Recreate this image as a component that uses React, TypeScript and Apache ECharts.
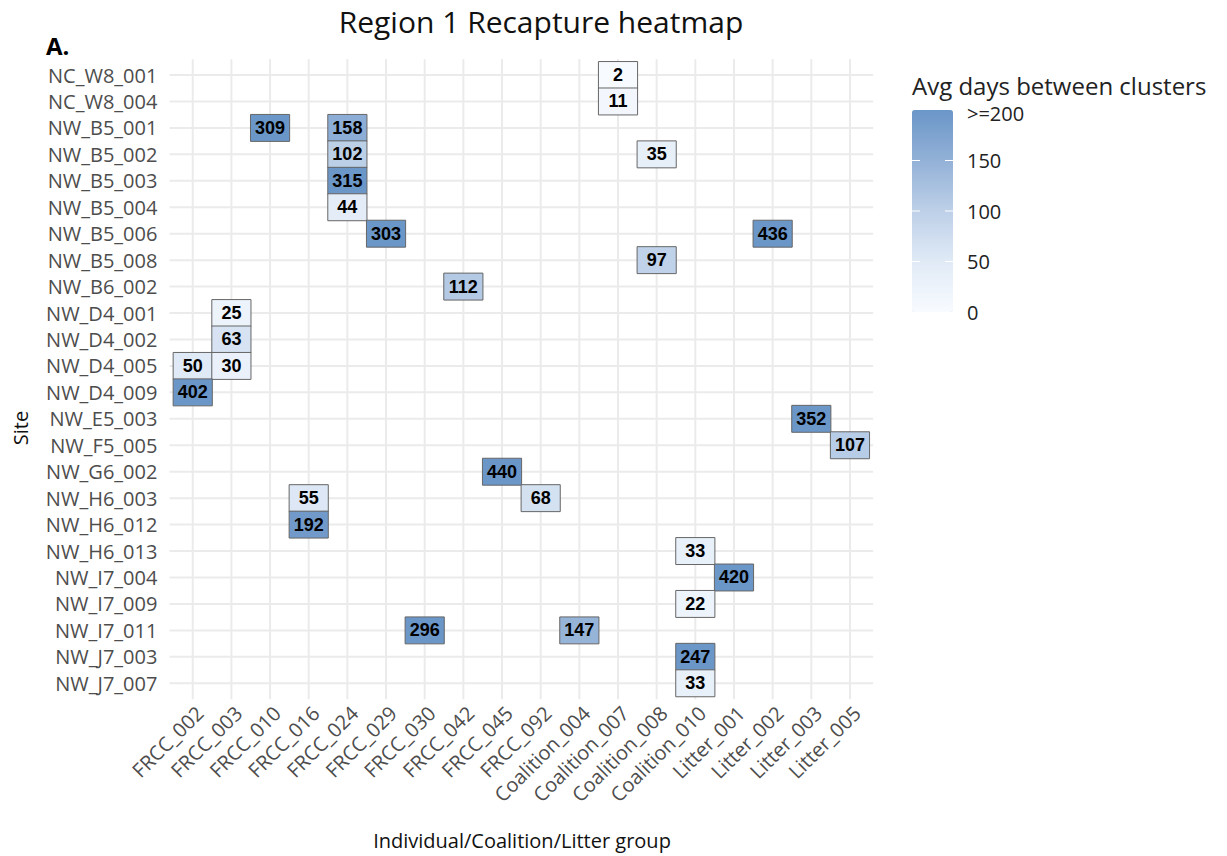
import React, { useEffect, useRef } from "react";
import * as echarts from "echarts";

const xCats = [
  "FRCC_002", "FRCC_003", "FRCC_010", "FRCC_016", "FRCC_024", "FRCC_029",
  "FRCC_030", "FRCC_042", "FRCC_045", "FRCC_092", "Coalition_004", "Coalition_007",
  "Coalition_008", "Coalition_010", "Litter_001", "Litter_002", "Litter_003", "Litter_005",
];

const yCats = [
  "NC_W8_001", "NC_W8_004", "NW_B5_001", "NW_B5_002", "NW_B5_003", "NW_B5_004",
  "NW_B5_006", "NW_B5_008", "NW_B6_002", "NW_D4_001", "NW_D4_002", "NW_D4_005",
  "NW_D4_009", "NW_E5_003", "NW_F5_005", "NW_G6_002", "NW_H6_003", "NW_H6_012",
  "NW_H6_013", "NW_I7_004", "NW_I7_009", "NW_I7_011", "NW_J7_003", "NW_J7_007",
];

const cellSites = [
  "NC_W8_001", "NC_W8_004", "NW_B5_001", "NW_B5_001", "NW_B5_002", "NW_B5_002",
  "NW_B5_003", "NW_B5_004", "NW_B5_006", "NW_B5_006", "NW_B5_008", "NW_B6_002",
  "NW_D4_001", "NW_D4_002", "NW_D4_005", "NW_D4_005", "NW_D4_009", "NW_E5_003",
  "NW_F5_005", "NW_G6_002", "NW_H6_003", "NW_H6_003", "NW_H6_012", "NW_H6_013",
  "NW_I7_004", "NW_I7_009", "NW_I7_011", "NW_I7_011", "NW_J7_003", "NW_J7_007",
];

const cellGroups = [
  "Coalition_007", "Coalition_007", "FRCC_010", "FRCC_024", "FRCC_024", "Coalition_008",
  "FRCC_024", "FRCC_024", "FRCC_029", "Litter_002", "Coalition_008", "FRCC_042",
  "FRCC_003", "FRCC_003", "FRCC_002", "FRCC_003", "FRCC_002", "Litter_003",
  "Litter_005", "FRCC_045", "FRCC_016", "FRCC_092", "FRCC_016", "Coalition_010",
  "Litter_001", "Coalition_010", "FRCC_030", "Coalition_004", "Coalition_010", "Coalition_010",
];

const cellValues = [
  2, 11, 309, 158, 102, 35,
  315, 44, 303, 436, 97, 112,
  25, 63, 50, 30, 402, 352,
  107, 440, 55, 68, 192, 33,
  420, 22, 296, 147, 247, 33,
];

const legendTicks = [0, 50, 100, 150, 200];
const legendTickLabels = ["0", "50", "100", "150", ">=200"];

// colour stops at 0, 50, 100, 150, 200
const colorStops = ["#f8fbff", "#e0eaf6", "#bdd0e8", "#93b1d7", "#6a96c8"];
const FONT = "'Open Sans', 'Noto Sans', sans-serif";

export default function App() {
  const ref = useRef<HTMLDivElement>(null);

  useEffect(() => {
    if (!ref.current) return;
    const chart = echarts.init(ref.current, undefined, { renderer: "svg" });

    const heatData = cellSites.map((s, i) => [
      xCats.indexOf(cellGroups[i]),
      yCats.indexOf(s),
      cellValues[i],
    ]);

    const barLeft = 912;
    const barTop = 110;
    const barW = 41;
    const barH = 202;
    const vmax = 200;

    const legendGraphics: any[] = [];
    legendTicks.forEach((t, i) => {
      const y = barTop + barH - (t / vmax) * barH;
      if (t > 0 && t < vmax) {
        legendGraphics.push({
          type: "line",
          shape: { x1: barLeft, y1: y, x2: barLeft + 8, y2: y },
          style: { stroke: "#ffffff", lineWidth: 1 },
          z: 100,
        });
        legendGraphics.push({
          type: "line",
          shape: { x1: barLeft + barW - 8, y1: y, x2: barLeft + barW, y2: y },
          style: { stroke: "#ffffff", lineWidth: 1 },
          z: 100,
        });
      }
      legendGraphics.push({
        type: "text",
        x: 967,
        y: t === vmax ? y + 3 : y,
        style: {
          text: legendTickLabels[i],
          fontSize: 20,
          fontFamily: FONT,
          fill: "#222222",
          verticalAlign: "middle",
          align: "left",
        },
      });
    });

    const option: any = {
      animation: false,
      backgroundColor: "#ffffff",
      grid: { left: 173.4, right: 357.7, top: 61.8, bottom: 159.5, containLabel: false },
      xAxis: {
        type: "category",
        data: xCats,
        axisLine: { show: false },
        axisTick: { show: false },
        splitLine: { show: false },
        axisLabel: {
          rotate: 45,
          margin: 6,
          fontSize: 20,
          fontFamily: FONT,
          color: "#4d4d4d",
          interval: 0,
          verticalAlign: "top",
        },
      },
      yAxis: {
        type: "category",
        data: yCats,
        inverse: true,
        axisLine: { show: false },
        axisTick: { show: false },
        splitLine: { show: false },
        axisLabel: {
          margin: 16,
          fontSize: 20,
          fontFamily: FONT,
          color: "#4d4d4d",
          interval: 0,
        },
      },
      visualMap: {
        type: "continuous",
        min: 0,
        max: vmax,
        calculable: false,
        show: true,
        seriesIndex: 2,
        orient: "vertical",
        left: barLeft,
        top: barTop,
        itemWidth: barW,
        itemHeight: barH,
        padding: 0,
        text: ["", ""],
        showLabel: false,
        hoverLink: false,
        inRange: { color: colorStops },
      },
      graphic: [
        {
          type: "text",
          x: 541,
          y: 21,
          style: {
            text: "Region 1 Recapture heatmap",
            fontSize: 30,
            fontFamily: FONT,
            fill: "#111111",
            align: "center",
            verticalAlign: "middle",
          },
        },
        {
          type: "text",
          x: 46,
          y: 45,
          style: {
            text: "A.",
            fontSize: 24,
            fontWeight: "bold",
            fontFamily: FONT,
            fill: "#000000",
            align: "left",
            verticalAlign: "middle",
          },
        },
        {
          type: "text",
          x: 912,
          y: 85,
          style: {
            text: "Avg days between clusters",
            fontSize: 24,
            fontFamily: FONT,
            fill: "#222222",
            align: "left",
            verticalAlign: "middle",
          },
        },
        {
          type: "text",
          x: 522,
          y: 840,
          style: {
            text: "Individual/Coalition/Litter group",
            fontSize: 20,
            fontFamily: FONT,
            fill: "#111111",
            align: "center",
            verticalAlign: "middle",
          },
        },
        {
          type: "text",
          x: 20,
          y: 428,
          rotation: Math.PI / 2,
          style: {
            text: "Site",
            fontSize: 20,
            fontFamily: FONT,
            fill: "#111111",
            align: "center",
            verticalAlign: "middle",
          },
        },
        ...legendGraphics,
      ],
      series: [
        {
          type: "custom",
          z: 1,
          silent: true,
          clip: false,
          data: xCats.map((_, i) => [i, 0]),
          encode: { x: 0, y: 1 },
          renderItem: (params: any, api: any) => {
            const i = api.value(0);
            const a = api.coord([i, 0]);
            const b = api.coord([i, yCats.length - 1]);
            const bh = api.size([0, 1])[1];
            return {
              type: "line",
              shape: { x1: a[0], y1: a[1] - 0.6 * bh, x2: b[0], y2: b[1] + 0.6 * bh },
              style: { stroke: "#ebebeb", lineWidth: 2 },
            };
          },
        },
        {
          type: "custom",
          z: 1,
          silent: true,
          clip: false,
          data: yCats.map((_, j) => [0, j]),
          encode: { x: 0, y: 1 },
          renderItem: (params: any, api: any) => {
            const j = api.value(1);
            const a = api.coord([0, j]);
            const b = api.coord([xCats.length - 1, j]);
            const bw = api.size([1, 0])[0];
            return {
              type: "line",
              shape: { x1: a[0] - 0.6 * bw, y1: a[1], x2: b[0] + 0.6 * bw, y2: b[1] },
              style: { stroke: "#ebebeb", lineWidth: 2 },
            };
          },
        },
        {
          type: "heatmap",
          z: 3,
          data: heatData,
          itemStyle: { borderColor: "#666666", borderWidth: 1 },
          label: {
            show: true,
            formatter: (p: any) => String(p.value[2]),
            fontSize: 18,
            fontWeight: "bold",
            fontFamily: "'Liberation Sans', Arial, sans-serif",
            color: "#000000",
          },
          emphasis: { disabled: true },
        },
      ],
    };

    chart.setOption(option);
    return () => chart.dispose();
  }, []);

  return <div ref={ref} style={{ width: 1227, height: 856, position: "absolute", left: 0, top: 0 }} />;
}
